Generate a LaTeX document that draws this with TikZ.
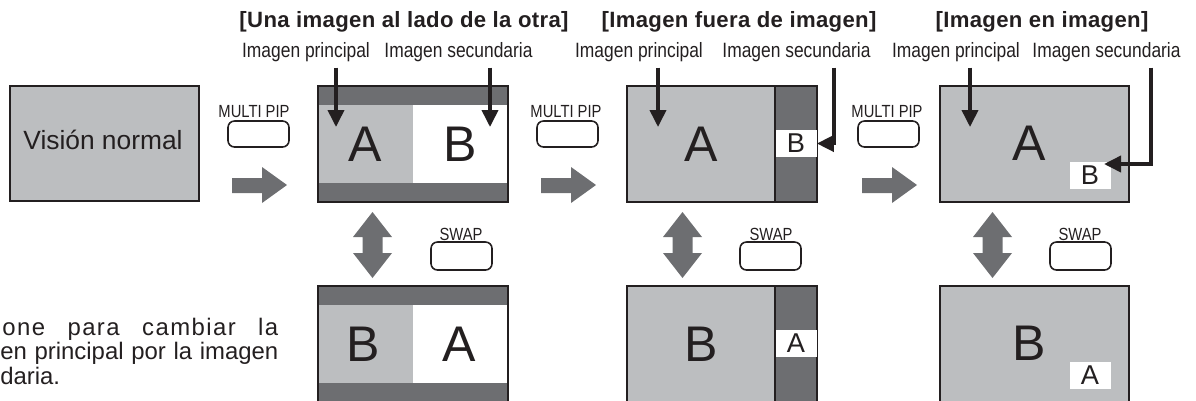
\documentclass[tikz,border=0pt]{standalone}
\usepackage{fontspec}
\setmainfont{Liberation Sans}
\newfontfamily\narrowfont[FakeStretch=0.84]{Liberation Sans}
\usetikzlibrary{arrows.meta}
\definecolor{screengray}{HTML}{BCBEC0}
\definecolor{bandgray}{HTML}{6D6E71}
\definecolor{inkblack}{HTML}{231F20}

\begin{document}
\begin{tikzpicture}[
    x=0.02cm, y=-0.02cm,
    frame/.style={draw=inkblack, line width=0.6pt},
    ptr/.style={-{Triangle[length=0.34cm,width=0.32cm]}, line width=2.1pt, draw=inkblack},
    btn/.style={draw=inkblack, line width=0.9pt, rounded corners=0.13cm},
    big/.style={font=\fontsize{28.5}{28}\selectfont, text=inkblack, inner sep=0pt},
    small/.style={font=\fontsize{15.5}{15}\selectfont, text=inkblack, fill=white, inner sep=0pt, minimum width=0.82cm, minimum height=0.54cm},
    title/.style={font=\bfseries\fontsize{12.6}{13}\selectfont\addfontfeature{LetterSpace=1.5}, text=inkblack, anchor=base},
    sub/.style={font=\narrowfont\fontsize{11.8}{12}\selectfont, text=inkblack, anchor=base},
    key/.style={font=\narrowfont\fontsize{10}{10}\selectfont, text=inkblack, anchor=base},
    note/.style={font=\fontsize{13.6}{14}\selectfont, text=inkblack, anchor=base west, inner sep=0pt}
]
    \useasboundingbox (0,0) rectangle (1196,400);

    % normal view
    \fill[screengray] (10,86) rectangle (199,201);
    \draw[frame] (10,86) rectangle (199,201);
    \node[font=\fontsize{15}{15}\selectfont, text=inkblack, anchor=base] (normal) at (103,149) {Visión normal};

    % side by side, top and bottom
    \foreach \y in {86,286} {
        \fill[screengray] (318,\y) rectangle (413,\y+116);
        \fill[white] (413,\y) rectangle (508,\y+116);
        \fill[bandgray] (318,\y) rectangle (508,\y+19);
        \fill[bandgray] (318,\y+97) rectangle (508,\y+116);
        \draw[frame] (318,\y) rectangle (508,\y+116);
    }
    % outside, top and bottom
    \foreach \y in {86,286} {
        \fill[screengray] (627,\y) rectangle (775,\y+116);
        \fill[bandgray] (775,\y) rectangle (817,\y+116);
        \draw[frame] (627,\y) rectangle (817,\y+116);
        \draw[frame] (775,\y) -- (775,\y+116);
    }
    % picture in picture, top and bottom
    \foreach \y in {86,286} {
        \fill[screengray] (940,\y) rectangle (1129,\y+116);
        \draw[frame] (940,\y) rectangle (1129,\y+116);
    }

    \node[big] (sbsA) at (365,144) {A};
    \node[big] (sbsB) at (460,144) {B};
    \node[big] (sbsB2) at (363,344) {B};
    \node[big] (sbsA2) at (459,344) {A};
    \node[big] (outA) at (701,144) {A};
    \node[small] (outB) at (796,143.5) {B};
    \node[big] (outB2) at (701,344) {B};
    \node[small] (outA2) at (796,343.5) {A};
    \node[big] (pipA) at (1029,143) {A};
    \node[small] (pipB) at (1090,175.5) {B};
    \node[big] (pipB2) at (1029,343) {B};
    \node[small] (pipA2) at (1090,375) {A};

    % headings
    \node[title] (t1) at (404,27) {[Una imagen al lado de la otra]};
    \node[title] (t2) at (739,27) {[Imagen fuera de imagen]};
    \node[title] (t3) at (1042,27) {[Imagen en imagen]};

    \node[sub] (p1) at (306,57) {Imagen principal};
    \node[sub] (s1) at (458.5,57) {Imagen secundaria};
    \node[sub] (p2) at (639,57) {Imagen principal};
    \node[sub] (s2) at (796.5,57) {Imagen secundaria};
    \node[sub] (p3) at (956,57) {Imagen principal};
    \node[sub] (s3) at (1106.5,57) {Imagen secundaria};

    \coordinate (tipP1) at (336,127);
    \coordinate (tipS1) at (490,127);
    \coordinate (tipP2) at (658,127);
    \coordinate (tipP3) at (970,127);
    \coordinate (tipS3) at (1104,164);
    \draw[ptr] (tipP1 |- p1.south) -- (tipP1);
    \draw[ptr] (tipS1 |- s1.south) -- (tipS1);
    \draw[ptr] (tipP2 |- p2.south) -- (tipP2);
    \draw[ptr] (834,0 |- s2.south) |- (outB.east);
    \draw[ptr] (tipP3 |- p3.south) -- (tipP3);
    \draw[ptr] (1151,0 |- s3.south) |- (tipS3);

    % MULTI PIP buttons
    \foreach \bx/\lx [count=\i] in {228/254,537/566,858/887} {
        \node[key] (mp\i) at (\lx,117) {MULTI PIP};
        \draw[btn] (\bx,121) rectangle (\bx+61,147);
        \fill[bandgray] (\bx+4,178) -- (\bx+34,178) -- (\bx+34,167) -- (\bx+59,185)
            -- (\bx+34,203) -- (\bx+34,193) -- (\bx+4,193) -- cycle;
    }

    % SWAP buttons
    \foreach \bx/\lx/\cx [count=\i] in {431/461/372.5,740/771/682.5,1050/1080/992.5} {
        \node[key] (sw\i) at (\lx,240) {SWAP};
        \draw[btn] (\bx,242) rectangle (\bx+61,270);
        \fill[bandgray] (\cx,212) -- (\cx+19.5,237) -- (\cx+10,237) -- (\cx+10,253)
            -- (\cx+19.5,253) -- (\cx,278) -- (\cx-19.5,253) -- (\cx-10,253)
            -- (\cx-10,237) -- (\cx-19.5,237) -- cycle;
    }

    % note, cut at the left edge
    \node[note] (n1) at (2,335) {\makebox[5.52cm][s]{\addfontfeature{LetterSpace=6}one para cambiar la}};
    \node[note] (n2) at (0,359.5) {\makebox[5.56cm][s]{en principal por la imagen}};
    \node[note] (n3) at (0,384) {daria.};
\end{tikzpicture}
\end{document}
